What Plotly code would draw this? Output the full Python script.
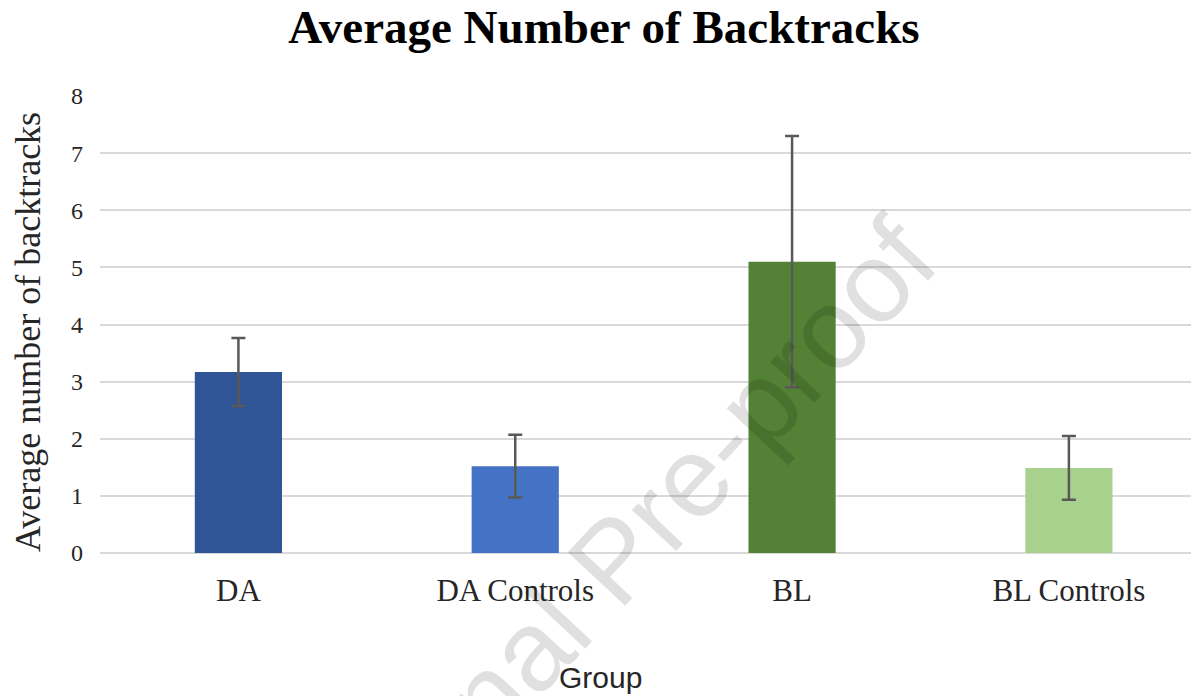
import plotly.graph_objects as go

categories = ["DA", "DA Controls", "BL", "BL Controls"]
means = [3.17, 1.52, 5.10, 1.49]
errors = [0.595, 0.55, 2.20, 0.56]
bar_colors = ["#2F5597", "#4472C4", "#538135", "#A9D18E"]
y_ticks = [0, 1, 2, 3, 4, 5, 6, 7, 8]

# the page shows the figure with an 8px body margin; work in window pixels
OFF = 8
WIN_W, WIN_H = 1199, 696
W, H = WIN_W - OFF, WIN_H - OFF
plot_left, plot_right, plot_top, plot_bottom = 100, 1199, 96, 553
L = plot_left - OFF
R = W - (plot_right - OFF)
T = plot_top - OFF
B = H - (plot_bottom - OFF)
pw, ph = W - L - R, H - T - B

def px_to_paper(x, y):
    return (x - OFF - L) / pw, (H - B - (y - OFF)) / ph

fig = go.Figure()
fig.add_trace(go.Bar(
    x=categories,
    y=means,
    marker=dict(color=bar_colors, line=dict(width=0)),
    width=0.315,
    error_y=dict(type="data", array=errors, visible=True,
                 color="#595959", thickness=2.5, width=7),
))

serif = "Liberation Serif, Times New Roman, serif"
sans = "Liberation Sans, Arial, sans-serif"

fig.update_layout(
    width=W, height=H,
    margin=dict(l=L, r=R, t=T, b=B, autoexpand=False),
    plot_bgcolor="white", paper_bgcolor="white",
    showlegend=False,
    title=dict(text="<b>Average Number of Backtracks</b>",
               font=dict(family=serif, size=47, color="black"),
               x=(604 - OFF) / W, xref="container", xanchor="center",
               y=1 - (27 - OFF) / H, yref="container", yanchor="middle"),
    xaxis=dict(range=[-0.5, 3.47], showgrid=False, zeroline=False,
               showline=False, ticks="",
               tickfont=dict(family=serif, size=31, color="#262626"),
               ticklabelstandoff=16),
    yaxis=dict(range=[0, 8], tickvals=y_ticks, showgrid=True,
               gridcolor="#D9D9D9", gridwidth=2, zeroline=True,
               zerolinecolor="#D9D9D9", zerolinewidth=2, showline=False,
               ticks="", tickfont=dict(family=serif, size=24, color="#262626"),
               ticklabelstandoff=16),
)

ax, ay = px_to_paper(28, 332)
fig.add_annotation(text="Average number of backtracks", xref="paper", yref="paper",
                   x=ax, y=ay, xanchor="center", yanchor="middle", textangle=-90,
                   showarrow=False, font=dict(family=serif, size=36, color="#262626"))
gx, gy = px_to_paper(600, 678)
fig.add_annotation(text="Group", xref="paper", yref="paper", x=gx, y=gy,
                   xanchor="center", yanchor="middle", showarrow=False,
                   font=dict(family=sans, size=30, color="#262626"))
wx, wy = px_to_paper(613, 560)
fig.add_annotation(text="Journal Pre-proof", xref="paper", yref="paper", x=wx, y=wy,
                   xanchor="center", yanchor="middle", textangle=-47, showarrow=False,
                   font=dict(family=sans, size=114, color="rgba(0,0,0,0.12)"))

fig.write_html("out.html")
